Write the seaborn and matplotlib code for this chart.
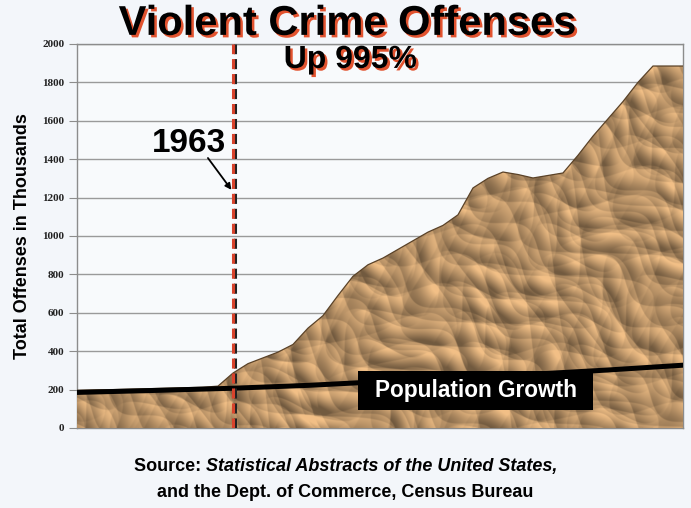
import numpy as np
import pandas as pd
import matplotlib
matplotlib.use("Agg")
import matplotlib.pyplot as plt
import matplotlib.patheffects as pe
from matplotlib.patches import Rectangle
import seaborn as sns

# violent crime offenses (thousands)
years = list(range(1952, 1994))
crime = [195, 197, 199, 200, 202, 204, 206, 208, 210, 212, 218, 286,
         335, 365, 395, 435, 520, 585, 690, 790, 850, 885, 930, 975,
         1020, 1055, 1110, 1250, 1300, 1333, 1320, 1302, 1315, 1328,
         1420, 1520, 1610, 1700, 1800, 1885, 1885, 1885]

# population growth reference line
pop_years = [1952, 1958, 1963, 1968, 1973, 1978, 1983, 1988, 1993]
pop_vals = [184, 196, 207, 222, 242, 260, 280, 302, 327]

y_ticks = list(range(0, 2001, 200))
marker_year = 1963

df = pd.DataFrame({"Year": years, "Offenses": crime})
pop_df = pd.DataFrame({"Year": pop_years, "Population": pop_vals})

sns.set_style("white")
plt.rcParams['font.family'] = ['Liberation Sans', 'DejaVu Sans']
plt.rcParams['text.color'] = 'black'

fig = plt.figure(figsize=(6.91, 5.08), dpi=100)
fig.patch.set_facecolor('#f3f6fa')
ax = fig.add_axes([0.1114, 0.1575, 0.877, 0.756])
ax.set_facecolor('#f8fafc')

x0, x1 = 1952.6, 1993
ax.set_xlim(x0, x1)
ax.set_ylim(0, 2000)

# area with a crumpled paper look (creases from warped ridges)
coll = ax.fill_between(df["Year"], 0, df["Offenses"], color='#b08b62', zorder=2, lw=0)
Y, X = np.mgrid[0:384:768j, 0:606:1212j]
creases = [(0.35, 0.055, 3.0, 0.031, 0.3), (1.9, 0.045, 3.5, 0.027, 1.7),
           (2.6, 0.07, 2.5, 0.043, 2.9), (0.9, 0.085, 2.0, 0.052, 4.1),
           (-0.5, 0.065, 3.0, 0.037, 5.3), (1.3, 0.10, 1.6, 0.061, 0.8),
           (2.2, 0.12, 1.3, 0.071, 3.6), (-1.1, 0.095, 2.0, 0.048, 2.2)]
h = np.zeros_like(X)
for a, f, wa, wf, ph in creases:
    u = X * np.cos(a) + Y * np.sin(a)
    v = -X * np.sin(a) + Y * np.cos(a)
    h -= np.abs(np.sin(f * u + wa * np.sin(wf * v + ph))) / (1 + 8 * f)
shade = np.gradient(h, axis=1) - np.gradient(h, axis=0)
shade = np.clip(shade / np.percentile(np.abs(shade), 98), -1, 1)
base = np.array([178, 141, 99]) / 255.0
tex = np.clip(base[None, None, :] * (1 + 0.36 * shade[..., None]), 0, 1)
im = ax.imshow(tex, extent=[x0, x1, 0, 2000], aspect='auto', zorder=3,
               interpolation='bilinear', origin='upper')
im.set_clip_path(coll.get_paths()[0], ax.transData)
sns.lineplot(data=df, x="Year", y="Offenses", color='#5a4228', lw=0.9, ax=ax, zorder=4)

# population growth line
sns.lineplot(data=pop_df, x="Year", y="Population", color='black', lw=3.6, ax=ax, zorder=5)
ax.add_patch(Rectangle((1971.33, 94), 15.67, 203, fc='black', ec='none', zorder=6))
ax.text(1979.2, 195, "Population Growth", color='white', fontsize=16.3, fontweight='bold',
        ha='center', va='center', zorder=7)

# 1963 marker
ax.axvline(marker_year + 0.12, color='#222222', lw=2.2, dashes=(3.3, 1.6), zorder=8)
ax.axvline(marker_year, color='#d8432c', lw=2.2, dashes=(3.3, 1.6), zorder=9)
ax.text(1960.1, 1484, "1963", fontsize=24, fontweight='bold', ha='center', va='center', zorder=10)
ax.annotate("", xy=(1962.9, 1240), xytext=(1961.33, 1406), zorder=10,
            arrowprops=dict(arrowstyle='-|>', color='black', lw=1.3,
                            mutation_scale=9, shrinkA=0, shrinkB=0))

# axes styling
ax.set_yticks(y_ticks)
ax.set_yticklabels([str(t) for t in y_ticks], fontfamily='Liberation Serif',
                   fontweight='bold', fontsize=8, color='#222222')
ax.set_xticks([])
ax.grid(axis='y', color='#9a9a9a', lw=1.0, zorder=1)
ax.set_axisbelow(True)
for s in ax.spines.values():
    s.set_color('#8c8c8c')
    s.set_linewidth(1.0)
ax.tick_params(axis='y', left=True, length=6, color='#8c8c8c', pad=3)
ax.set_xlabel("")
ax.set_ylabel("Total Offenses in Thousands", fontsize=13, fontweight='bold', labelpad=8,
              color='black')

# titles with red shadow
shadow = [pe.withSimplePatchShadow(offset=(1.8, -1.8), shadow_rgbFace='#e2532f', alpha=1.0)]
fig.text(0.503, 0.953, "Violent Crime Offenses", fontsize=30, fontweight='bold',
         ha='center', va='center', path_effects=shadow)
fig.text(0.507, 0.882, "Up 995%", fontsize=23, fontweight='bold',
         ha='center', va='center', path_effects=shadow)

# source lines, mixed upright and italic
renderer = fig.canvas.get_renderer()
part1 = fig.text(0, 0.082, "Source: ", fontsize=13, fontweight='bold', va='center')
part2 = fig.text(0, 0.082, "Statistical Abstracts of the United States,", fontsize=13,
                 fontweight='bold', fontstyle='italic', va='center')
w1 = part1.get_window_extent(renderer).width / fig.bbox.width
w2 = part2.get_window_extent(renderer).width / fig.bbox.width
start = 0.5 - (w1 + w2) / 2
part1.set_x(start)
part2.set_x(start + w1)
fig.text(0.5, 0.031, "and the Dept. of Commerce, Census Bureau", fontsize=13,
         fontweight='bold', ha='center', va='center')

plt.savefig("out.png", dpi=100, facecolor=fig.get_facecolor())
plt.close()
